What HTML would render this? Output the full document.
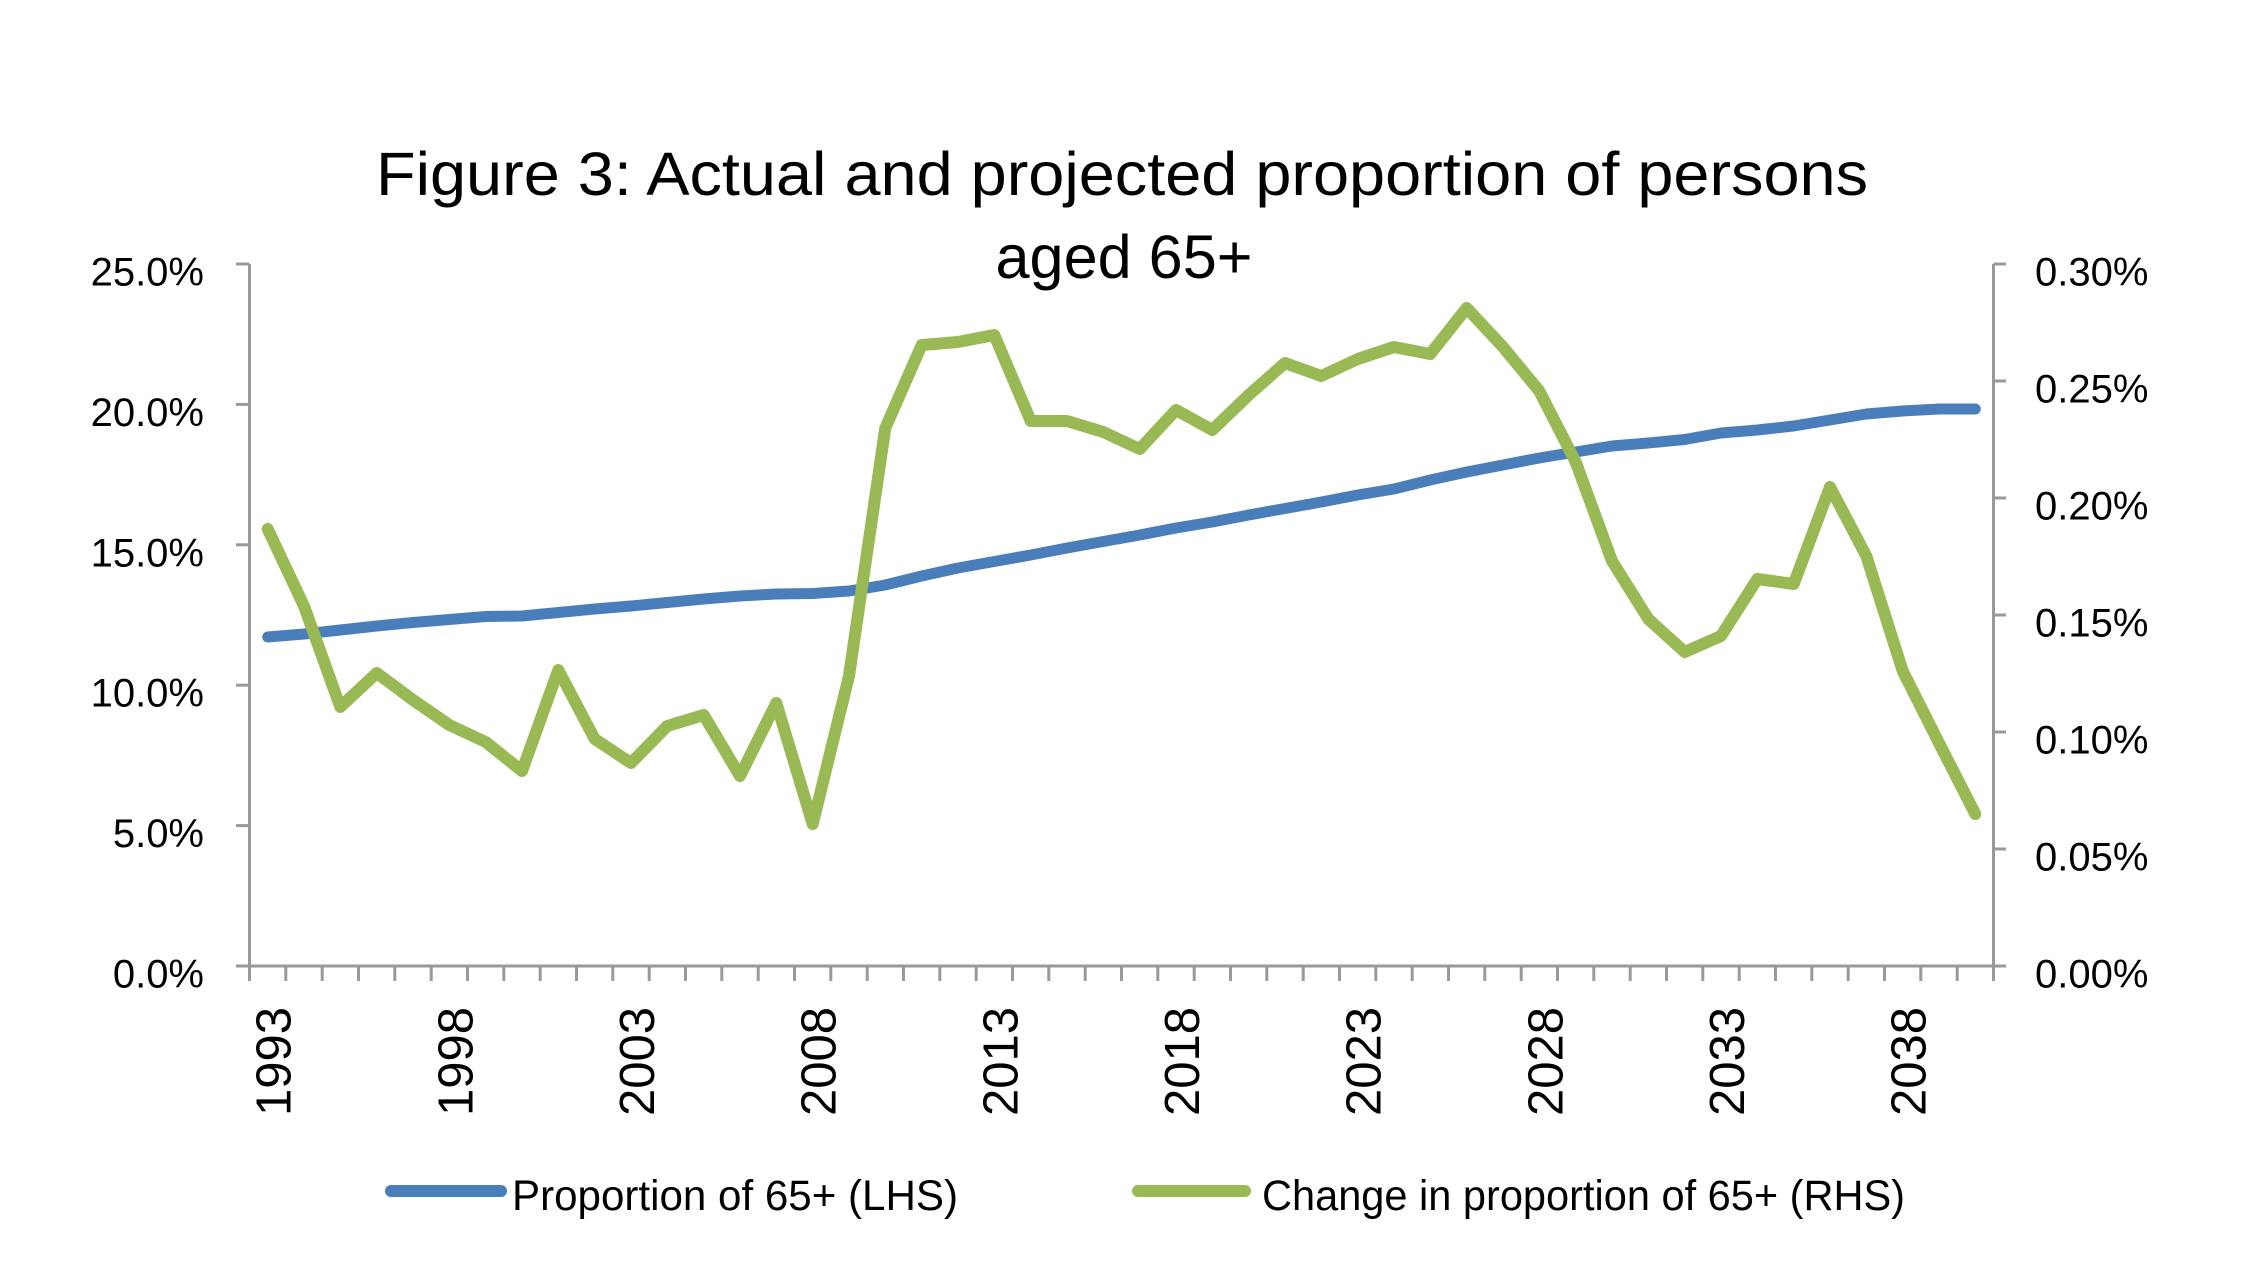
<!DOCTYPE html>
<html>
<head>
<meta charset="utf-8">
<style>
  html, body { margin: 0; padding: 0; background: #ffffff; }
  svg { display: block; }
  text { font-family: "Liberation Sans", Arial, sans-serif; fill: #000; }
</style>
</head>
<body>
<svg xmlns="http://www.w3.org/2000/svg" width="2262" height="1275" viewBox="0 0 2262 1275">
  <rect x="0" y="0" width="2262" height="1275" fill="#ffffff"/>

  <!-- Title -->
  <text x="1122" y="195" font-size="61" text-anchor="middle" textLength="1492" lengthAdjust="spacingAndGlyphs">Figure 3: Actual and projected proportion of persons</text>
  <text x="1124" y="278" font-size="61" text-anchor="middle" textLength="257" lengthAdjust="spacingAndGlyphs">aged 65+</text>

  <!-- Axes -->
  <g stroke="#999999" stroke-width="3" fill="none">
    <line x1="249.5" y1="264" x2="249.5" y2="966"/>
    <line x1="1993.5" y1="264" x2="1993.5" y2="966"/>
    <line x1="236" y1="966" x2="2006" y2="966"/>
    <!-- left ticks -->
    <line x1="236" y1="264" x2="249.5" y2="264"/>
    <line x1="236" y1="404.4" x2="249.5" y2="404.4"/>
    <line x1="236" y1="544.8" x2="249.5" y2="544.8"/>
    <line x1="236" y1="685.2" x2="249.5" y2="685.2"/>
    <line x1="236" y1="825.6" x2="249.5" y2="825.6"/>
    <!-- right ticks -->
    <line x1="1993.5" y1="264" x2="2006" y2="264"/>
    <line x1="1993.5" y1="381" x2="2006" y2="381"/>
    <line x1="1993.5" y1="498" x2="2006" y2="498"/>
    <line x1="1993.5" y1="615" x2="2006" y2="615"/>
    <line x1="1993.5" y1="732" x2="2006" y2="732"/>
    <line x1="1993.5" y1="849" x2="2006" y2="849"/>
    <!-- x ticks -->
    <path d="M249.5 966V981 M285.8 966V981 M322.2 966V981 M358.5 966V981 M394.8 966V981 M431.2 966V981 M467.5 966V981 M503.8 966V981 M540.2 966V981 M576.5 966V981 M612.8 966V981 M649.2 966V981 M685.5 966V981 M721.8 966V981 M758.2 966V981 M794.5 966V981 M830.8 966V981 M867.2 966V981 M903.5 966V981 M939.8 966V981 M976.2 966V981 M1012.5 966V981 M1048.8 966V981 M1085.2 966V981 M1121.5 966V981 M1157.8 966V981 M1194.2 966V981 M1230.5 966V981 M1266.8 966V981 M1303.2 966V981 M1339.5 966V981 M1375.8 966V981 M1412.2 966V981 M1448.5 966V981 M1484.8 966V981 M1521.2 966V981 M1557.5 966V981 M1593.8 966V981 M1630.2 966V981 M1666.5 966V981 M1702.8 966V981 M1739.2 966V981 M1775.5 966V981 M1811.8 966V981 M1848.2 966V981 M1884.5 966V981 M1920.8 966V981 M1957.2 966V981 M1993.5 966V981"/>
  </g>

  <!-- Left tick labels -->
  <g font-size="40" text-anchor="end">
    <text x="204" y="285.5">25.0%</text>
    <text x="204" y="425.9">20.0%</text>
    <text x="204" y="566.3">15.0%</text>
    <text x="204" y="706.7">10.0%</text>
    <text x="204" y="847.1">5.0%</text>
    <text x="204" y="987.5">0.0%</text>
  </g>

  <!-- Right tick labels -->
  <g font-size="40" text-anchor="start">
    <text x="2035" y="285.5">0.30%</text>
    <text x="2035" y="402.5">0.25%</text>
    <text x="2035" y="519.5">0.20%</text>
    <text x="2035" y="636.5">0.15%</text>
    <text x="2035" y="753.5">0.10%</text>
    <text x="2035" y="870.5">0.05%</text>
    <text x="2035" y="987.5">0.00%</text>
  </g>

  <!-- X labels (rotated) -->
  <g font-size="49" text-anchor="end">
    <text transform="translate(290.7,1007) rotate(-90)">1993</text>
    <text transform="translate(472.3,1007) rotate(-90)">1998</text>
    <text transform="translate(654.0,1007) rotate(-90)">2003</text>
    <text transform="translate(835.7,1007) rotate(-90)">2008</text>
    <text transform="translate(1017.3,1007) rotate(-90)">2013</text>
    <text transform="translate(1199.0,1007) rotate(-90)">2018</text>
    <text transform="translate(1380.7,1007) rotate(-90)">2023</text>
    <text transform="translate(1562.3,1007) rotate(-90)">2028</text>
    <text transform="translate(1744.0,1007) rotate(-90)">2033</text>
    <text transform="translate(1925.7,1007) rotate(-90)">2038</text>
  </g>

  <!-- Blue series: Proportion of 65+ (LHS) -->
  <polyline fill="none" stroke="#4A7EBB" stroke-width="11" stroke-linejoin="round" stroke-linecap="round"
    points="267.7,637 304.0,634 340.3,630 376.7,626 413.0,622.5 449.3,619.5 485.7,616.5 522.0,616 558.3,612.5 594.7,609 631.0,606 667.3,602.5 703.7,599 740.0,596 776.3,594 812.7,593.5 849.0,591 885.3,585 921.7,576 958.0,568 994.3,561.5 1030.7,555 1067.0,548 1103.3,541.5 1139.7,535 1176.0,528 1212.3,522 1248.7,515 1285.0,508.5 1321.3,502 1357.7,495 1394.0,489 1430.3,480 1466.7,472 1503.0,465 1539.3,458 1575.7,452 1612.0,446 1648.3,443 1684.7,439.5 1721.0,433 1757.3,430 1793.7,426 1830.0,420 1866.3,414 1902.7,411 1939.0,409 1975.3,409"/>

  <!-- Green series: Change in proportion of 65+ (RHS) -->
  <polyline fill="none" stroke="#98B954" stroke-width="12" stroke-linejoin="round" stroke-linecap="round"
    points="267.7,529 304.0,606 340.3,707 376.7,673 413.0,700 449.3,725 485.7,742 522.0,771 558.3,670 594.7,739 631.0,763 667.3,726 703.7,715 740.0,776 776.3,703 812.7,824 849.0,676 885.3,428 921.7,345 958.0,342 994.3,335 1030.7,421 1067.0,421 1103.3,432 1139.7,449 1176.0,410 1212.3,430 1248.7,395 1285.0,363 1321.3,376 1357.7,359 1394.0,347 1430.3,354 1466.7,308 1503.0,347 1539.3,391 1575.7,462 1612.0,561 1648.3,619 1684.7,652 1721.0,636 1757.3,579 1793.7,584 1830.0,487 1866.3,556 1902.7,671 1939.0,743 1975.3,814"/>

  <!-- Legend -->
  <line x1="391" y1="1191" x2="501" y2="1191" stroke="#4A7EBB" stroke-width="12" stroke-linecap="round"/>
  <text x="512" y="1210" font-size="43" textLength="446" lengthAdjust="spacingAndGlyphs">Proportion of 65+ (LHS)</text>
  <line x1="1138" y1="1191" x2="1245" y2="1191" stroke="#98B954" stroke-width="12" stroke-linecap="round"/>
  <text x="1262" y="1210" font-size="43" textLength="643" lengthAdjust="spacingAndGlyphs">Change in proportion of 65+ (RHS)</text>
</svg>
</body>
</html>
